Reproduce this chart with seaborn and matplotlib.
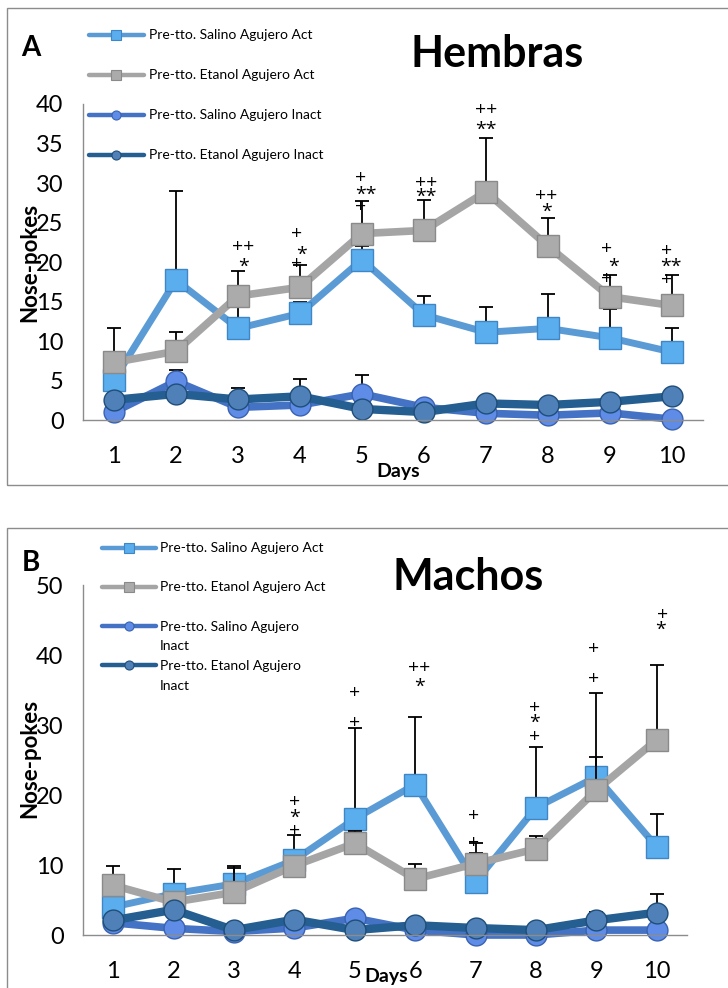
import numpy as np
import pandas as pd
import matplotlib
matplotlib.use("Agg")
import matplotlib.pyplot as plt
import seaborn as sns
from matplotlib.lines import Line2D
from matplotlib.patches import Rectangle

sns.set_theme(style="white")
plt.rcParams['font.family'] = ['Lato', 'DejaVu Sans']
plt.rcParams['text.color'] = 'black'

days = list(range(1, 11))
series_names = ["Pre-tto. Salino Agujero Act", "Pre-tto. Etanol Agujero Act",
                "Pre-tto. Salino Agujero Inact", "Pre-tto. Etanol Agujero Inact"]
series_names_b = ["Pre-tto. Salino Agujero Act", "Pre-tto. Etanol Agujero Act",
                  "Pre-tto. Salino Agujero\nInact", "Pre-tto. Etanol Agujero\nInact"]

# Panel A (Hembras)
a_sal_act = [5.1, 17.7, 11.6, 13.5, 20.3, 13.3, 11.1, 11.6, 10.4, 8.6]
a_eta_act = [7.3, 8.7, 15.7, 16.8, 23.6, 24.0, 28.9, 22.0, 15.6, 14.5]
a_sal_inact = [1.0, 4.9, 1.6, 1.9, 3.3, 1.6, 0.85, 0.6, 0.9, 0.1]
a_eta_inact = [2.55, 3.3, 2.6, 3.0, 1.4, 1.0, 2.1, 1.9, 2.3, 3.0]
# upper error-bar tops
a_sal_act_top = [7.0, 29.0, 15.0, 14.9, 22.0, 15.7, 14.3, 16.0, 14.0, 11.7]
a_eta_act_top = [11.6, 11.1, 18.9, 19.6, 27.7, 27.9, 35.7, 25.6, 18.4, 18.4]
a_sal_inact_top = [1.0, 6.3, 4.1, 5.2, 5.7, 1.6, 0.85, 0.6, 0.9, 0.1]
a_eta_inact_top = [2.55, 3.3, 2.6, 3.0, 1.4, 1.0, 2.1, 1.9, 2.3, 3.0]
a_marks = [(3.09, 21.9, "++"), (3.09, 19.4, "*"),
           (3.94, 23.5, "+"), (4.03, 20.9, "*"), (3.94, 19.7, "+"),
           (4.97, 30.6, "+"), (5.06, 28.5, "**"), (4.97, 26.9, "+"),
           (6.03, 30.0, "++"), (6.03, 28.3, "**"),
           (7.0, 39.2, "++"), (7.0, 36.7, "**"),
           (7.97, 28.3, "++"), (7.97, 26.4, "*"),
           (8.94, 21.7, "+"), (9.06, 19.4, "*"), (8.94, 17.9, "+"),
           (9.91, 21.4, "+"), (9.99, 19.4, "**"), (9.91, 17.7, "+")]

# Panel B (Machos)
b_sal_act = [4.0, 5.9, 7.3, 10.7, 16.6, 21.5, 7.6, 18.2, 22.6, 12.6]
b_eta_act = [7.1, 4.7, 6.1, 9.9, 13.1, 8.0, 10.2, 12.3, 20.7, 27.9]
b_sal_inact = [1.75, 0.95, 0.5, 1.0, 2.4, 0.7, 0.0, 0.0, 0.7, 0.7]
b_eta_inact = [2.1, 3.6, 0.7, 2.2, 0.7, 1.4, 1.0, 0.7, 2.1, 3.2]
b_sal_act_top = [5.2, 9.5, 9.9, 14.3, 29.5, 31.2, 13.2, 26.8, 34.6, 17.3]
b_eta_act_top = [9.9, 4.7, 9.6, 10.5, 14.8, 10.2, 11.7, 14.1, 25.5, 38.6]
b_sal_inact_top = [1.75, 0.95, 0.5, 1.0, 2.4, 0.7, 0.0, 0.0, 0.7, 0.7]
b_eta_inact_top = [2.1, 3.6, 0.7, 2.2, 0.7, 1.4, 1.0, 0.7, 3.3, 5.9]
b_marks = [(4.01, 19.0, "+"), (4.01, 16.7, "*"), (4.01, 14.8, "+"),
           (4.99, 34.6, "+"), (4.99, 30.3, "+"),
           (6.07, 38.2, "++"), (6.07, 35.5, "*"),
           (6.97, 17.0, "+"), (6.97, 13.2, "+"),
           (7.98, 32.4, "+"), (7.98, 30.3, "*"), (7.98, 28.3, "+"),
           (8.96, 40.8, "+"), (8.96, 36.6, "+"),
           (10.09, 45.7, "+"), (10.06, 43.6, "*")]

W, H = 728, 988
def fx(x): return x / W
def fy(y): return 1 - y / H

styles = [
    dict(color="#5B9BD5", lw=5.0, marker="s", ms=16, mfc="#5AAEEE", mec="#3F86C6", mew=1.0),
    dict(color="#A5A5A5", lw=5.5, marker="s", ms=16, mfc="#ABABAB", mec="#8A8A8A", mew=1.0),
    dict(color="#4472C4", lw=5.5, marker="o", ms=15, mfc="#5E8CE6", mec="#3A62B0", mew=1.0),
    dict(color="#255E91", lw=6.0, marker="o", ms=15, mfc="#4F80B8", mec="#1F4E79", mew=1.0),
]

fig = plt.figure(figsize=(W / 100, H / 100), dpi=100)

def panel(rect, vals, tops, marks, ymax, yticks):
    ax = fig.add_axes(rect)
    for i, (v, t) in enumerate(zip(vals, tops)):
        v = np.array(v); t = np.array(t)
        st = styles[i]
        ax.errorbar(days, v, yerr=[np.zeros_like(v), t - v], fmt="none", ecolor="black",
                    elinewidth=1.3, capsize=5, capthick=1.3, zorder=2 + i * 0.1)
        sns.lineplot(x=days, y=v, ax=ax, color=st["color"], linewidth=st["lw"],
                     marker=st["marker"], markersize=st["ms"], markerfacecolor=st["mfc"],
                     markeredgecolor=st["mec"], markeredgewidth=st["mew"],
                     clip_on=False, zorder=2.05 + i * 0.1)
    for x, y, s in marks:
        ax.text(x, y, s, ha="center", va="center", fontsize=14, color="black", zorder=5,
                family=["Open Sans", "DejaVu Sans"])
    ax.set_xlim(0.5, 10.5)
    ax.set_ylim(0, ymax)
    ax.set_xticks(days)
    ax.set_yticks(yticks)
    ax.tick_params(axis="both", length=0, labelsize=17, colors="black")
    ax.tick_params(axis="y", pad=14)
    ax.tick_params(axis="x", pad=19)
    for s in ["top", "right"]:
        ax.spines[s].set_visible(False)
    for s in ["left", "bottom"]:
        ax.spines[s].set_color("#8C8C8C")
        ax.spines[s].set_linewidth(1.0)
    ax.set_xlabel(""); ax.set_ylabel("")
    ax.patch.set_alpha(0)
    return ax

axA = panel([fx(83), fy(420), fx(703) - fx(83), fy(104) - fy(420)],
            [a_sal_act, a_eta_act, a_sal_inact, a_eta_inact],
            [a_sal_act_top, a_eta_act_top, a_sal_inact_top, a_eta_inact_top],
            a_marks, 40, list(range(0, 41, 5)))
axB = panel([fx(83), fy(935), fx(687) - fx(83), fy(585) - fy(935)],
            [b_sal_act, b_eta_act, b_sal_inact, b_eta_inact],
            [b_sal_act_top, b_eta_act_top, b_sal_inact_top, b_eta_inact_top],
            b_marks, 50, list(range(0, 51, 10)))

# frames
fig.add_artist(Rectangle((fx(7), fy(485)), fx(740) - fx(7), fy(8) - fy(485),
                         transform=fig.transFigure, fill=False, ec="#8C8C8C", lw=1.0))
fig.add_artist(Rectangle((fx(7), fy(1000)), fx(740) - fx(7), fy(528) - fy(1000),
                         transform=fig.transFigure, fill=False, ec="#8C8C8C", lw=1.0))

# titles and labels
fig.text(fx(497), fy(54), "Hembras", fontsize=31, fontweight="bold", ha="center", va="center")
fig.text(fx(468), fy(577), "Machos", fontsize=31, fontweight="bold", ha="center", va="center")
fig.text(fx(31), fy(48), "A", fontsize=20, fontweight="bold", ha="center", va="center")
fig.text(fx(31), fy(563), "B", fontsize=20, fontweight="bold", ha="center", va="center")
fig.text(fx(30), fy(262), "Nose-pokes", fontsize=16, fontweight="bold", rotation=90,
         ha="center", va="center")
fig.text(fx(30), fy(758), "Nose-pokes", fontsize=16, fontweight="bold", rotation=90,
         ha="center", va="center")
fig.text(fx(398), fy(471), "Days", fontsize=14, fontweight="bold", ha="center", va="center")
fig.text(fx(386), fy(976), "Days", fontsize=14, fontweight="bold", ha="center", va="center")

# legends
def legend(x0, x1, xt, ys, labels):
    for st, y, lab in zip(styles, ys, labels):
        fig.add_artist(Line2D([fx(x0), fx(x1)], [fy(y), fy(y)], transform=fig.transFigure,
                              color=st["color"], lw=3.2))
        fig.add_artist(Line2D([fx((x0 + x1) / 2)], [fy(y)], transform=fig.transFigure,
                              marker=st["marker"], ms=6.5, mfc=st["mfc"], mec=st["mec"],
                              mew=0.8, lw=0))
        if "\n" in lab:
            fig.text(fx(xt), fy(y - 5), lab, fontsize=10, ha="left", va="top",
                     linespacing=1.75)
        else:
            fig.text(fx(xt), fy(y), lab, fontsize=10, ha="left", va="center")

legend(89, 144, 149, [35, 75, 115, 155], series_names)
legend(102, 156, 160, [548, 587, 626, 665], series_names_b)

fig.savefig("out.png", dpi=100)
